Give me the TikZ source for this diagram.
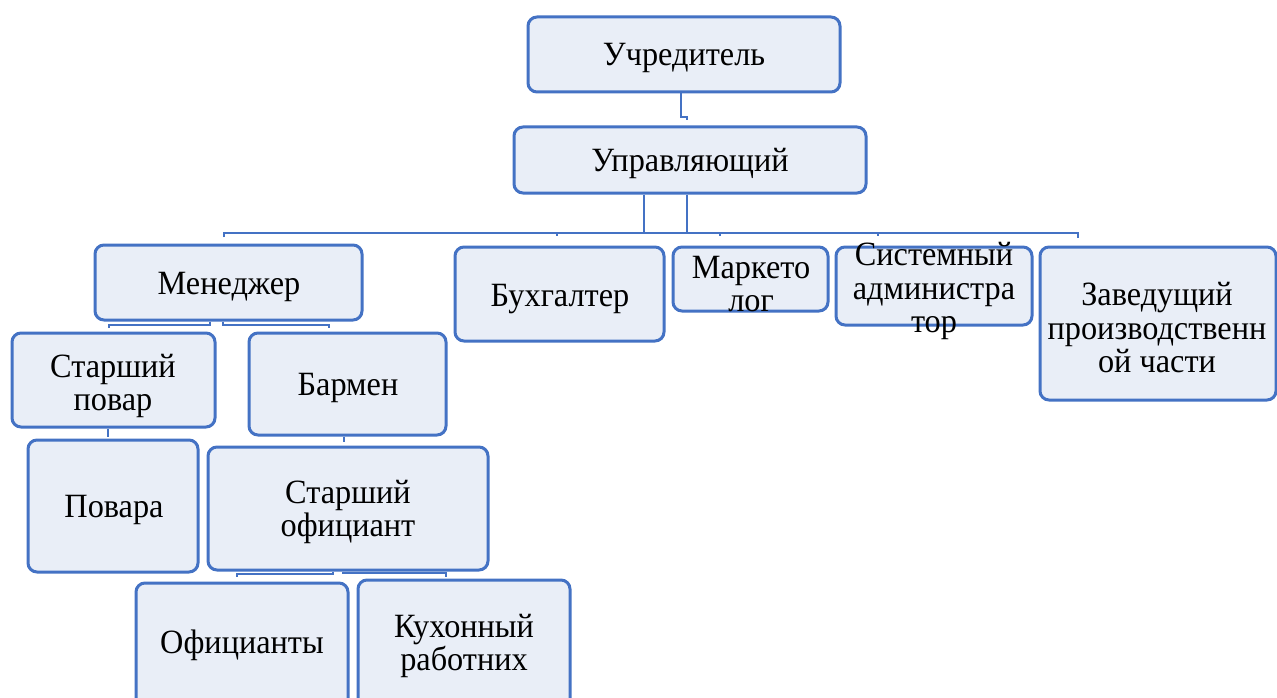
\documentclass[tikz,border=0pt]{standalone}
\usepackage{fontspec}
\setmainfont{Liberation Serif}[FakeStretch=0.95]
\usetikzlibrary{calc}
\definecolor{bl}{HTML}{4472C4}
\definecolor{fl}{HTML}{E9EEF7}
\begin{document}
\begin{tikzpicture}[x=1pt,y=-1pt,
  obox/.style={draw=bl,fill=fl,line width=3pt,rounded corners=9pt,inner sep=0pt},
  otxt/.style={align=center,inner sep=0pt,font=\fontsize{34}{33.5}\selectfont,text=black},
  conn/.style={draw=bl,line width=2.6pt}]
\clip (0,0) rectangle (1277,698);
\fill[white] (0,0) rectangle (1277,698);
% coordinates for connectors
\coordinate (c1) at (681,117);
\coordinate (bA) at (644,233);
\coordinate (bB) at (687,233);
\coordinate (bL) at (224,233);
\coordinate (bR) at (1078,233);
\coordinate (m1) at (210,325);
\coordinate (m2) at (109,325);
\coordinate (m3) at (223,325);
\coordinate (m4) at (329,325);
\coordinate (p1) at (108,437);
\coordinate (p2) at (344,442);
\coordinate (s1) at (333,574);
\coordinate (s2) at (237,574);
\coordinate (s3) at (343,573);
\coordinate (s4) at (446,573);
% boxes
\node[obox,minimum width=312pt,minimum height=75pt] (u1) at (684,54.5) {};
\node[obox,minimum width=352pt,minimum height=66pt] (u2) at (690,160) {};
\node[obox,minimum width=267pt,minimum height=75pt] (m) at (228.5,282.5) {};
\node[obox,minimum width=209pt,minimum height=94pt] (b) at (559.5,294) {};
\node[obox,minimum width=155pt,minimum height=64pt] (mk) at (750.5,279) {};
\node[obox,minimum width=196pt,minimum height=78pt] (sa) at (934,286) {};
\node[obox,minimum width=236pt,minimum height=153pt] (z) at (1158,323.5) {};
\node[obox,minimum width=203pt,minimum height=94pt] (sp) at (113.5,380) {};
\node[obox,minimum width=197pt,minimum height=102pt] (br) at (347.5,384) {};
\node[obox,minimum width=170pt,minimum height=132pt] (pv) at (113,506) {};
\node[obox,minimum width=280pt,minimum height=123pt] (so) at (348,508.5) {};
\node[obox,minimum width=212pt,minimum height=125pt] (of) at (242,645.5) {};
\node[obox,minimum width=212pt,minimum height=128pt] (kr) at (464,644) {};
% connectors
\draw[conn] (u1.south -| c1) -- (c1) -- ++(6,0) -- ++(0,3);
\draw[conn] (u2.south -| bA) -- (bA);
\draw[conn] (u2.south -| bB) -- (bB);
\draw[conn] ($(bL)+(0,4)$) -- (bL) -- (bR) -- ++(0,5);
\draw[conn] (557,233) -- ++(0,3);
\draw[conn] (720,233) -- ++(0,3);
\draw[conn] (878,233) -- ++(0,3);
\draw[conn] (m.south -| m1) -- (m1) -- (m2) -- ++(0,3);
\draw[conn] (m.south -| m3) -- (m3) -- (m4) -- ++(0,3);
\draw[conn] (sp.south -| p1) -- (p1);
\draw[conn] (br.south -| p2) -- (p2);
\draw[conn] (so.south -| s1) -- (s1) -- (s2) -- ++(0,3);
\draw[conn] (so.south -| s3) -- (s3) -- (s4) -- ++(0,4);
% texts
\node[otxt] (u1t) at (684,58) {Учредитель};
\node[otxt] (u2t) at (690,163) {Управляющий};
\node[otxt] (mt) at (229,287) {Менеджер};
\node[otxt] (bt) at (560,299) {Бухгалтер};
\node[otxt] (mkt) at (751,284) {Маркето\\лог};
\node[otxt] (sat) at (934,291) {Системный\\администра\\тор};
\node[otxt] (zt) at (1157,328) {Заведущий\\производственн\\ой части};
\node[otxt] (spt) at (113,386) {Старший\\повар};
\node[otxt] (brt) at (348,388) {Бармен};
\node[otxt] (pvt) at (114,510) {Повара};
\node[otxt] (sot) at (348,512) {Старший\\официант};
\node[otxt] (oft) at (242,645) {Официанты};
\node[otxt] (krt) at (464,646) {Кухонный\\работних};
\end{tikzpicture}
\end{document}
